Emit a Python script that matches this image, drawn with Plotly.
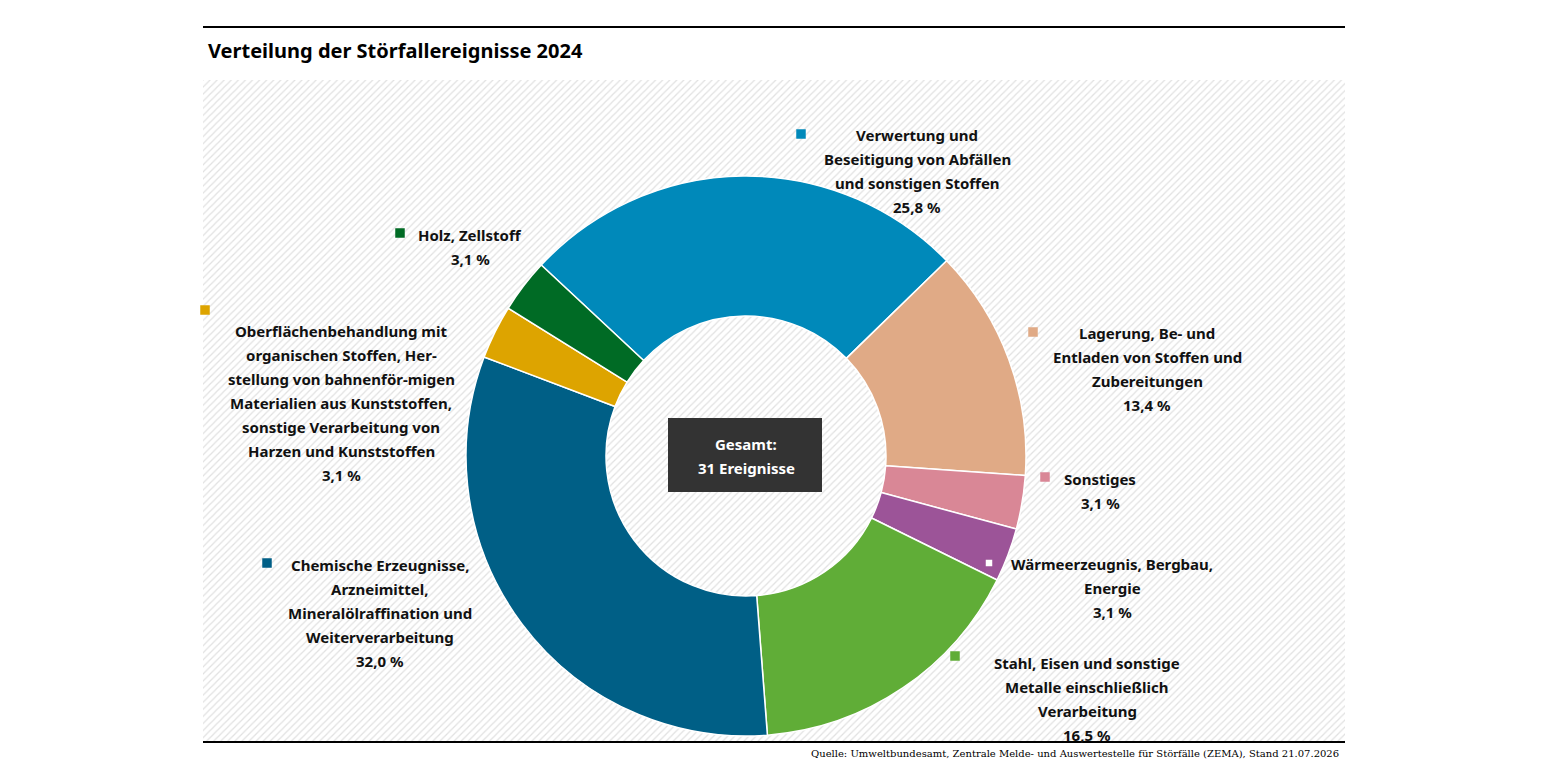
import plotly.graph_objects as go

W, H = 1545, 775
labels = ["Verwertung und Beseitigung von Abfällen und sonstigen Stoffen",
          "Lagerung, Be- und Entladen von Stoffen und Zubereitungen",
          "Sonstiges", "Wärmeerzeugnis, Bergbau, Energie",
          "Stahl, Eisen und sonstige Metalle einschließlich Verarbeitung",
          "Chemische Erzeugnisse, Arzneimittel, Mineralölraffination und Weiterverarbeitung",
          "Oberflächenbehandlung mit organischen Stoffen, Herstellung von bahnenförmigen Materialien aus Kunststoffen, sonstige Verarbeitung von Harzen und Kunststoffen",
          "Holz, Zellstoff"]
values = [25.8, 13.4, 3.1, 3.1, 16.5, 32.0, 3.1, 3.1]
colors = ["#0089BA", "#E0AA86", "#D98796", "#9C5498", "#60AD37", "#005F86", "#DDA400", "#006B25"]
label_texts = [
    "Verwertung und<br>Beseitigung von Abfällen<br>und sonstigen Stoffen<br>25,8 %",
    "Lagerung, Be- und<br>Entladen von Stoffen und<br>Zubereitungen<br>13,4 %",
    "Sonstiges<br>3,1 %",
    "Wärmeerzeugnis, Bergbau,<br>Energie<br>3,1 %",
    "Stahl, Eisen und sonstige<br>Metalle einschließlich<br>Verarbeitung<br>16,5 %",
    "Chemische Erzeugnisse,<br>Arzneimittel,<br>Mineralölraffination und<br>Weiterverarbeitung<br>32,0 %",
    "Oberflächenbehandlung mit<br>organischen Stoffen, Her-<br>stellung von bahnenför-migen<br>Materialien aus Kunststoffen,<br>sonstige Verarbeitung von<br>Harzen und Kunststoffen<br>3,1 %",
    "Holz, Zellstoff<br>3,1 %",
]
# layout positions (pixels): text center x, first line y, square x, square y
label_pos = [(917, 135, 801, 134), (1147, 333, 1033, 332), (1100, 479, 1045, 477),
             (1112, 564, 989, 563), (1087, 663, 955, 656), (380, 565, 267, 563),
             (341, 331, 205, 310), (470, 235, 400, 233)]

OFF = 8  # page body margin
def px(x): return (x - OFF) / W
def py(y): return 1 - (y - OFF) / H

FONT = "Noto Sans"
fig = go.Figure()
fig.add_trace(go.Scatter(x=[0, 1, 1, 0, 0], y=[0, 0, 1, 1, 0], mode="lines", fill="toself",
                         line=dict(width=0), fillcolor="white",
                         fillpattern=dict(shape="/", fgcolor="#c4c4c4", bgcolor="white", size=5, solidity=0.25),
                         hoverinfo="skip", showlegend=False, xaxis="x", yaxis="y"))
fig.add_trace(go.Pie(labels=labels, values=values, hole=0.5, sort=False, direction="clockwise",
                     rotation=-47, marker=dict(colors=colors, line=dict(color="white", width=1.5)),
                     textinfo="none", showlegend=False,
                     domain=dict(x=[px(466), px(1026)], y=[py(736), py(176)])))

ann = []
shapes = []
for t, (cx, ty, sx, sy), c in zip(label_texts, label_pos, colors):
    for i, line in enumerate(t.split("<br>")):
        ann.append(dict(x=px(cx), y=py(ty + 24 * i), xref="paper", yref="paper", text="<b>" + line + "</b>",
                        showarrow=False, xanchor="center", yanchor="middle",
                        font=dict(family=FONT, size=15, color="#111")))
    fc, lc = c, c
    if c == "#9C5498":
        fc, lc = "white", "#9C5498"
    shapes.append(dict(type="rect", xref="paper", yref="paper", x0=px(sx - 4), x1=px(sx + 4),
                       y0=py(sy + 4), y1=py(sy - 4), fillcolor=fc, line=dict(color=lc, width=1.5)))

shapes += [
    dict(type="line", xref="paper", yref="paper", x0=px(203), x1=px(1345), y0=py(27), y1=py(27),
         line=dict(color="black", width=2)),
    dict(type="line", xref="paper", yref="paper", x0=px(203), x1=px(1345), y0=py(742), y1=py(742),
         line=dict(color="black", width=2)),
    dict(type="rect", xref="paper", yref="paper", x0=px(668), x1=px(822), y0=py(492), y1=py(418),
         fillcolor="#333333", line=dict(width=0)),
]
ann += [
    dict(x=px(746), y=py(444), xref="paper", yref="paper", showarrow=False, xanchor="center", yanchor="middle",
         text="<b>Gesamt:</b>", font=dict(family=FONT, size=15, color="white")),
    dict(x=px(746), y=py(468), xref="paper", yref="paper", showarrow=False, xanchor="center", yanchor="middle",
         text="<b>31 Ereignisse</b>", font=dict(family=FONT, size=15, color="white")),
    dict(x=px(206), y=py(50), xref="paper", yref="paper", xanchor="left", yanchor="middle", showarrow=False,
         text="<b>Verteilung der Störfallereignisse 2024</b>", font=dict(family=FONT, size=20, color="black")),
    dict(x=px(1341), y=py(753), xref="paper", yref="paper", xanchor="right", yanchor="middle", showarrow=False,
         text="Quelle: Umweltbundesamt, Zentrale Melde- und Auswertestelle für Störfälle (ZEMA), Stand 21.07.2026",
         font=dict(family="DejaVu Serif", size=10, color="black")),
]

fig.update_layout(
    width=W, height=H, margin=dict(l=0, r=0, t=0, b=0), paper_bgcolor="white", plot_bgcolor="white",
    xaxis=dict(domain=[px(203), px(1345)], range=[0, 1], visible=False, fixedrange=True),
    yaxis=dict(domain=[py(742), py(80)], range=[0, 1], visible=False, fixedrange=True),
    annotations=ann, shapes=shapes,
)
fig.write_html("out.html")
